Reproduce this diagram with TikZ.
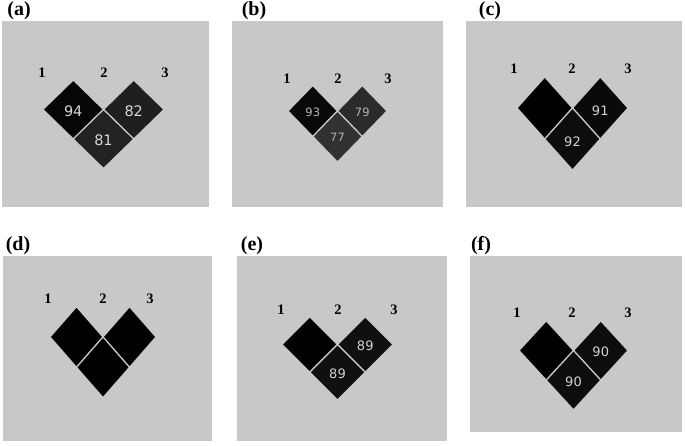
\documentclass[tikz,border=0pt]{standalone}
\usepackage{fontspec}
\setmainfont{Liberation Serif}
\newfontfamily\numfont{DejaVu Sans}
\definecolor{bg}{RGB}{200,200,200}
\definecolor{ca94}{RGB}{6,6,6}
\definecolor{ca82}{RGB}{31,31,31}
\definecolor{ca81}{RGB}{34,34,34}
\definecolor{cb93}{RGB}{8,8,8}
\definecolor{cb79}{RGB}{43,43,43}
\definecolor{cb77}{RGB}{49,49,49}
\definecolor{cblk}{RGB}{0,0,0}
\definecolor{cc91}{RGB}{10,10,10}
\definecolor{cc92}{RGB}{13,13,13}
\definecolor{ce89}{RGB}{16,16,16}
\definecolor{cf90}{RGB}{13,13,13}
\definecolor{txa}{RGB}{215,215,215}
\definecolor{txb}{RGB}{180,180,180}
\definecolor{txc}{RGB}{210,210,210}
\begin{document}
\begin{tikzpicture}[x=1pt,y=-1pt,
  panel/.style={fill=bg, draw=none},
  cell/.style={draw=bg, line width=1.2pt, line join=miter},
  numtxt/.style={font=\numfont, inner sep=0pt},
  poslab/.style={font=\fontsize{14.5}{14.5}\selectfont\bfseries, inner sep=0pt},
  panlab/.style={font=\fontsize{20}{20}\selectfont\bfseries, inner sep=0pt}]
\fill[white] (0,0) rectangle (685,445);
\useasboundingbox (0,0) rectangle (685,445);

% ---------- (a)
\fill[panel] (2,21) rectangle (209,207);
\node[panlab] (la) at (19,11) {(a)};
\node[poslab] (a1) at (42,73) {1};
\node[poslab] (a2) at (104,73) {2};
\node[poslab] (a3) at (165,73) {3};
\begin{scope}[shift={(103.5,109.5)},x=30.25pt,y=-29.5pt]
\path[fill=ca94,cell] (-2,0)--(-1,-1)--(0,0)--(-1,1)--cycle;
\path[fill=ca82,cell] (0,0)--(1,-1)--(2,0)--(1,1)--cycle;
\path[fill=ca81,cell] (-1,1)--(0,0)--(1,1)--(0,2)--cycle;
\node[numtxt,text=txa,font=\numfont\fontsize{14.5}{14.5}\selectfont] (a94) at (-1,0.05) {94};
\node[numtxt,text=txa,font=\numfont\fontsize{14.5}{14.5}\selectfont] (a82) at (1,0.05) {82};
\node[numtxt,text=txa,font=\numfont\fontsize{14.5}{14.5}\selectfont] (a81) at (0,1.05) {81};
\end{scope}

% ---------- (b)
\fill[panel] (232,21) rectangle (443,207);
\node[panlab] (lb) at (254,11) {(b)};
\node[poslab] (b1) at (287,79) {1};
\node[poslab] (b2) at (338,79) {2};
\node[poslab] (b3) at (388,79) {3};
\begin{scope}[shift={(337.5,111)},x=24.75pt,y=-25.5pt]
\path[fill=cb93,cell] (-2,0)--(-1,-1)--(0,0)--(-1,1)--cycle;
\path[fill=cb79,cell] (0,0)--(1,-1)--(2,0)--(1,1)--cycle;
\path[fill=cb77,cell] (-1,1)--(0,0)--(1,1)--(0,2)--cycle;
\node[numtxt,text=txb,font=\numfont\fontsize{11.5}{11.5}\selectfont] (b93) at (-1,0.05) {93};
\node[numtxt,text=txb,font=\numfont\fontsize{11.5}{11.5}\selectfont] (b79) at (1,0.05) {79};
\node[numtxt,text=txb,font=\numfont\fontsize{11.5}{11.5}\selectfont] (b77) at (0,1.05) {77};
\end{scope}

% ---------- (c)
\fill[panel] (466,21) rectangle (682,207);
\node[panlab] (lc) at (490,11) {(c)};
\node[poslab] (c1) at (514,69) {1};
\node[poslab] (c2) at (572,69) {2};
\node[poslab] (c3) at (628,69) {3};
\begin{scope}[shift={(572.5,108)},x=27.75pt,y=-31pt]
\path[fill=cblk,cell] (-2,0)--(-1,-1)--(0,0)--(-1,1)--cycle;
\path[fill=cc91,cell] (0,0)--(1,-1)--(2,0)--(1,1)--cycle;
\path[fill=cc92,cell] (-1,1)--(0,0)--(1,1)--(0,2)--cycle;
\node[numtxt,text=txc,font=\numfont\fontsize{13}{13}\selectfont] (c91) at (1,0.1) {91};
\node[numtxt,text=txc,font=\numfont\fontsize{13}{13}\selectfont] (c92) at (0,1.1) {92};
\end{scope}

% ---------- (d)
\fill[panel] (3,256) rectangle (212,441);
\node[panlab] (ld) at (18,246) {(d)};
\node[poslab] (d1) at (48,299) {1};
\node[poslab] (d2) at (103,299) {2};
\node[poslab] (d3) at (150,299) {3};
\begin{scope}[shift={(103,337)},x=26.5pt,y=-30.3pt]
\path[fill=cblk,cell] (-2,0)--(-1,-1)--(0,0)--(-1,1)--cycle;
\path[fill=cblk,cell] (0,0)--(1,-1)--(2,0)--(1,1)--cycle;
\path[fill=cblk,cell] (-1,1)--(0,0)--(1,1)--(0,2)--cycle;
\end{scope}

% ---------- (e)
\fill[panel] (237,256) rectangle (447,441);
\node[panlab] (le) at (252,246) {(e)};
\node[poslab] (e1) at (281,310) {1};
\node[poslab] (e2) at (338,310) {2};
\node[poslab] (e3) at (394,310) {3};
\begin{scope}[shift={(337.5,344.5)},x=27.75pt,y=-27.7pt]
\path[fill=cblk,cell] (-2,0)--(-1,-1)--(0,0)--(-1,1)--cycle;
\path[fill=ce89,cell] (0,0)--(1,-1)--(2,0)--(1,1)--cycle;
\path[fill=ce89,cell] (-1,1)--(0,0)--(1,1)--(0,2)--cycle;
\node[numtxt,text=txc,font=\numfont\fontsize{13}{13}\selectfont] (e89a) at (1,0.05) {89};
\node[numtxt,text=txc,font=\numfont\fontsize{13}{13}\selectfont] (e89b) at (0,1.05) {89};
\end{scope}

% ---------- (f)
\fill[panel] (470,256) rectangle (682,432);
\node[panlab] (lf) at (481,246) {(f)};
\node[poslab] (f1) at (517,313) {1};
\node[poslab] (f2) at (572,313) {2};
\node[poslab] (f3) at (628,313) {3};
\begin{scope}[shift={(573.5,350.5)},x=27.25pt,y=-29.7pt]
\path[fill=cblk,cell] (-2,0)--(-1,-1)--(0,0)--(-1,1)--cycle;
\path[fill=cf90,cell] (0,0)--(1,-1)--(2,0)--(1,1)--cycle;
\path[fill=cf90,cell] (-1,1)--(0,0)--(1,1)--(0,2)--cycle;
\node[numtxt,text=txc,font=\numfont\fontsize{13}{13}\selectfont] (f90a) at (1,0.05) {90};
\node[numtxt,text=txc,font=\numfont\fontsize{13}{13}\selectfont] (f90b) at (0,1.05) {90};
\end{scope}
\end{tikzpicture}
\end{document}
